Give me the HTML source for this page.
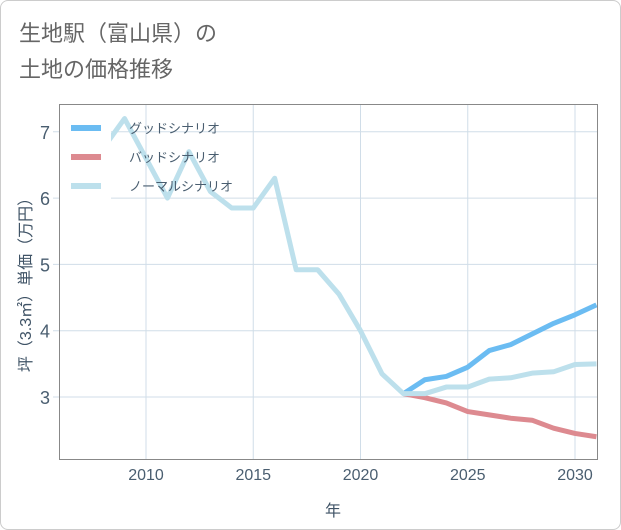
<!DOCTYPE html>
<html><head><meta charset="utf-8"><style>
body{margin:0;background:#fff;font-family:"Liberation Sans","Noto Sans CJK JP",sans-serif}
#c{position:relative;width:621px;height:530px;box-sizing:border-box;border:1px solid #ccc;border-radius:8px;overflow:hidden}
</style></head><body>
<div id="c">
<svg width="621" height="530" xmlns="http://www.w3.org/2000/svg" id="svg">
<text x="18" y="40" font-size="22" fill="#666">生地駅（富山県）の</text>
<text x="18" y="76" font-size="22" fill="#666">土地の価格推移</text>
<g id="grid"></g>
<g id="lines"></g>
<rect x="59" y="104" width="51" height="96" fill="#fff"/>
<rect x="58.5" y="103.5" width="538" height="355" fill="none" stroke="#888"/>
<g id="legend"></g>
<g id="axes"></g>
<text x="332" y="515" font-size="16" fill="#3f5366" text-anchor="middle">年</text>
<text transform="translate(30,280) rotate(-90)" font-size="16" fill="#3f5366" text-anchor="middle">坪（3.3㎡）単価（万円）</text>
</svg></div>
<script>
const years=[2008,2009,2010,2011,2012,2013,2014,2015,2016,2017,2018,2019,2020,2021,2022,2023,2024,2025,2026,2027,2028,2029,2030,2031];
const normal=[6.75,7.2,6.6,6.0,6.7,6.1,5.85,5.85,6.3,4.92,4.92,4.55,4.0,3.35,3.05,3.05,3.15,3.15,3.27,3.29,3.36,3.38,3.49,3.5];
const futureYears=[2022,2023,2024,2025,2026,2027,2028,2029,2030,2031];
const good=[3.05,3.26,3.31,3.45,3.7,3.79,3.95,4.11,4.24,4.39];
const bad=[3.05,2.99,2.91,2.78,2.73,2.68,2.65,2.53,2.45,2.40];
const xTicks=[2010,2015,2020,2025,2030];
const yTicks=[3,4,5,6,7];
const X=y=>145+(y-2010)*21.45;
const Y=v=>396-(v-3)*66.3;
const NS="http://www.w3.org/2000/svg";
function mk(tag,attrs,parent){const e=document.createElementNS(NS,tag);for(const k in attrs)e.setAttribute(k,attrs[k]);document.getElementById(parent).appendChild(e);return e;}
xTicks.forEach(t=>{
 const l=mk('line',{x1:X(t),x2:X(t),y1:104,y2:458,stroke:'#d0dde8'},'grid');
 
 
 const tx=mk('text',{x:X(t),y:479,'font-size':16,fill:'#4a5e70','text-anchor':'middle'},'axes');tx.textContent=t;
 
 
});
yTicks.forEach(t=>{
 const l=mk('line',{x1:52,x2:597,y1:Y(t),y2:Y(t),stroke:'#d0dde8'},'grid');
 
 
 const tx=mk('text',{x:49,y:Y(t)+7,'font-size':18,fill:'#4a5e70','text-anchor':'end'},'axes');tx.textContent=t;
 
 
});
function line(xs,vs,color,name){
 const p=mk('polyline',{points:xs.map((y,i)=>X(y)+','+Y(vs[i])).join(' '),fill:'none',stroke:color,'stroke-width':5,'stroke-linejoin':'round'},'lines');
 
 
}
line(futureYears,good,'#6bbcf2','good-scenario-line');
line(futureYears,bad,'#dd8a90','bad-scenario-line');
line(years,normal,'#bde0ec','normal-scenario-line');
const leg=[['グッドシナリオ','#6bbcf2'],['バッドシナリオ','#dd8a90'],['ノーマルシナリオ','#bde0ec']];
leg.forEach((d,i)=>{
 const y=127+i*29;
 const r=mk('rect',{x:70,y:y-3,width:30,height:6,fill:d[1]},'legend');
 
 
 const t=mk('text',{x:128,y:y+5,'font-size':13,fill:'#4a5e70'},'legend');t.textContent=d[0];
 
 
});
</script>
</body></html>
